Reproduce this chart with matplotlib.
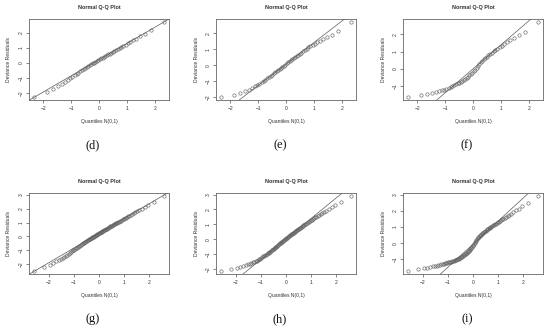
import matplotlib
matplotlib.use("Agg")
import matplotlib.pyplot as plt
from matplotlib.ticker import MultipleLocator
from statistics import NormalDist

# ---- data: sorted deviance residuals ----
panel_labels = ["(d)", "(e)", "(f)", "(g)", "(h)", "(i)"]
title_text = "Normal Q-Q Plot"
x_label = "Quantiles N(0,1)"
y_label = "Deviance Residuals"

resid_d = [-2.23, -1.92, -1.70, -1.52, -1.38, -1.24, -1.12, -1.01, -0.91, -0.81,
           -0.72, -0.63, -0.55, -0.47, -0.40, -0.33, -0.26, -0.20, -0.14, -0.08,
           -0.03, 0.03, 0.08, 0.14, 0.19, 0.25, 0.30, 0.35, 0.41, 0.46,
           0.51, 0.57, 0.62, 0.68, 0.74, 0.80, 0.86, 0.93, 0.99, 1.06,
           1.13, 1.21, 1.29, 1.38, 1.48, 1.60, 1.74, 1.92, 2.16, 2.69]
resid_e = [-2.00, -1.86, -1.75, -1.64, -1.54, -1.44, -1.34, -1.25, -1.16, -1.07,
           -0.99, -0.91, -0.83, -0.75, -0.67, -0.59, -0.52, -0.45, -0.38, -0.31,
           -0.24, -0.17, -0.10, -0.03, 0.04, 0.11, 0.18, 0.24, 0.31, 0.38,
           0.45, 0.51, 0.58, 0.65, 0.72, 0.79, 0.87, 0.95, 1.03, 1.11,
           1.19, 1.27, 1.35, 1.44, 1.53, 1.63, 1.75, 1.92, 2.15, 2.71]
resid_f = [-1.62, -1.52, -1.45, -1.39, -1.34, -1.29, -1.24, -1.19, -1.14, -1.09,
           -1.04, -0.99, -0.94, -0.89, -0.84, -0.79, -0.74, -0.68, -0.62, -0.56,
           -0.50, -0.44, -0.37, -0.30, -0.22, -0.13, -0.04, 0.06, 0.17, 0.28,
           0.39, 0.48, 0.56, 0.64, 0.71, 0.78, 0.86, 0.93, 1.01, 1.09,
           1.17, 1.25, 1.34, 1.43, 1.53, 1.64, 1.77, 1.93, 2.12, 2.70]
resid_g = [-2.53, -2.24, -2.08, -1.95, -1.83, -1.73, -1.64, -1.56, -1.48, -1.41,
           -1.34, -1.27, -1.21, -1.15, -1.09, -1.03, -0.98, -0.92, -0.87, -0.82,
           -0.77, -0.72, -0.68, -0.63, -0.59, -0.55, -0.51, -0.47, -0.43, -0.39,
           -0.36, -0.32, -0.29, -0.26, -0.23, -0.20, -0.17, -0.14, -0.11, -0.08,
           -0.05, -0.02, 0.01, 0.04, 0.07, 0.10, 0.12, 0.15, 0.18, 0.21,
           0.23, 0.26, 0.29, 0.31, 0.34, 0.37, 0.40, 0.42, 0.45, 0.48,
           0.51, 0.53, 0.56, 0.59, 0.62, 0.65, 0.68, 0.71, 0.74, 0.77,
           0.80, 0.83, 0.86, 0.90, 0.93, 0.96, 1.00, 1.03, 1.07, 1.10,
           1.14, 1.18, 1.22, 1.26, 1.30, 1.35, 1.39, 1.44, 1.49, 1.55,
           1.61, 1.67, 1.74, 1.82, 1.91, 2.01, 2.13, 2.29, 2.50, 2.93]
resid_h = [-2.13, -1.99, -1.90, -1.83, -1.77, -1.72, -1.67, -1.63, -1.59, -1.55,
           -1.51, -1.47, -1.43, -1.39, -1.34, -1.30, -1.25, -1.20, -1.15, -1.11,
           -1.07, -1.03, -0.99, -0.95, -0.91, -0.87, -0.83, -0.79, -0.75, -0.71,
           -0.67, -0.63, -0.59, -0.55, -0.51, -0.47, -0.43, -0.39, -0.35, -0.32,
           -0.28, -0.25, -0.21, -0.17, -0.14, -0.10, -0.07, -0.03, 0.00, 0.04,
           0.07, 0.10, 0.14, 0.17, 0.20, 0.23, 0.27, 0.30, 0.33, 0.36,
           0.39, 0.42, 0.45, 0.49, 0.52, 0.55, 0.59, 0.62, 0.66, 0.69,
           0.73, 0.77, 0.81, 0.85, 0.89, 0.93, 0.97, 1.01, 1.05, 1.09,
           1.14, 1.18, 1.23, 1.27, 1.32, 1.36, 1.41, 1.46, 1.51, 1.56,
           1.62, 1.68, 1.75, 1.82, 1.91, 2.01, 2.13, 2.28, 2.52, 2.90]
resid_i = [-1.73, -1.62, -1.56, -1.52, -1.48, -1.45, -1.42, -1.39, -1.37, -1.34,
           -1.32, -1.30, -1.28, -1.26, -1.24, -1.22, -1.20, -1.18, -1.16, -1.14,
           -1.12, -1.10, -1.08, -1.06, -1.04, -1.02, -1.00, -0.98, -0.96, -0.93,
           -0.91, -0.88, -0.85, -0.82, -0.79, -0.76, -0.73, -0.70, -0.66, -0.63,
           -0.59, -0.55, -0.51, -0.47, -0.42, -0.37, -0.32, -0.27, -0.22, -0.16,
           -0.10, -0.04, 0.02, 0.08, 0.14, 0.20, 0.26, 0.31, 0.36, 0.41,
           0.45, 0.49, 0.53, 0.57, 0.61, 0.64, 0.68, 0.71, 0.75, 0.78,
           0.82, 0.85, 0.89, 0.92, 0.96, 0.99, 1.03, 1.06, 1.10, 1.14,
           1.18, 1.22, 1.26, 1.30, 1.34, 1.39, 1.43, 1.48, 1.53, 1.58,
           1.64, 1.70, 1.77, 1.84, 1.93, 2.03, 2.15, 2.30, 2.52, 2.93]

# reference lines (intercept, slope)
line_intercepts = [0.22, 0.07, 0.00, 0.22, 0.02, -0.06]
line_slopes = [1.06, 1.345, 1.38, 1.076, 1.378, 1.435]

residuals = [resid_d, resid_e, resid_f, resid_g, resid_h, resid_i]

# ---- layout (pixels in a 550x328 figure) ----
W, H = 550, 328
col_left = [29, 216, 403]
ax_w = 140
row_top = [19, 193]
ax_h = 81
label_x = [93, 280, 467]
label_y = [145, 319]

fig = plt.figure(figsize=(W / 100, H / 100), dpi=100)
fig.patch.set_facecolor("white")

txt_col = "#333333"
sans = ["Liberation Sans", "DejaVu Sans"]

def qq_x(n):
    nd = NormalDist()
    a = 0.375 if n <= 10 else 0.5
    return [nd.inv_cdf((k + 1 - a) / (n + 1 - 2 * a)) for k in range(n)]

for idx, res in enumerate(residuals):
    r, c = divmod(idx, 3)
    left = col_left[c] / W
    bottom = 1 - (row_top[r] + ax_h) / H
    ax = fig.add_axes([left, bottom, ax_w / W, ax_h / H])
    xs = qq_x(len(res))
    ax.plot(xs, res, linestyle="none", marker="o", markersize=2.4,
            markerfacecolor="none", markeredgecolor="#666666",
            markeredgewidth=0.45)
    ax.margins(x=0.04, y=0.04)
    ax.axline((0, line_intercepts[idx]), slope=line_slopes[idx],
              color="#5a5a5a", lw=0.5)
    ax.xaxis.set_major_locator(MultipleLocator(1))
    ax.yaxis.set_major_locator(MultipleLocator(1))
    ax.tick_params(length=2.0, width=0.5, colors="#555555",
                   labelsize=3.6, labelcolor=txt_col)
    ax.tick_params(axis="x", pad=2.6)
    ax.tick_params(axis="y", pad=2.0)
    for lab in ax.get_yticklabels():
        lab.set_rotation(90)
        lab.set_va("center")
        lab.set_family(sans)
    for lab in ax.get_xticklabels():
        lab.set_family(sans)
    for sp in ax.spines.values():
        sp.set_linewidth(0.6)
        sp.set_color("#666666")
    ax.text(0.5, 1 + 12 / ax_h, title_text, transform=ax.transAxes,
            ha="center", va="center", fontsize=4.0, fontweight="bold",
            family=sans, color=txt_col)
    ax.text(0.5, -21 / ax_h, x_label, transform=ax.transAxes,
            ha="center", va="center", fontsize=3.6, family=sans, color=txt_col)
    ax.text(-20 / ax_w, 0.5, y_label, transform=ax.transAxes, rotation=90,
            ha="center", va="center", fontsize=3.6, family=sans, color=txt_col)
    fig.text(label_x[c] / W, 1 - label_y[r] / H, panel_labels[idx],
             ha="center", va="center", fontsize=9,
             family=["Liberation Serif", "DejaVu Serif"], color="#111111")

fig.savefig("out.png", dpi=100, facecolor="white")
